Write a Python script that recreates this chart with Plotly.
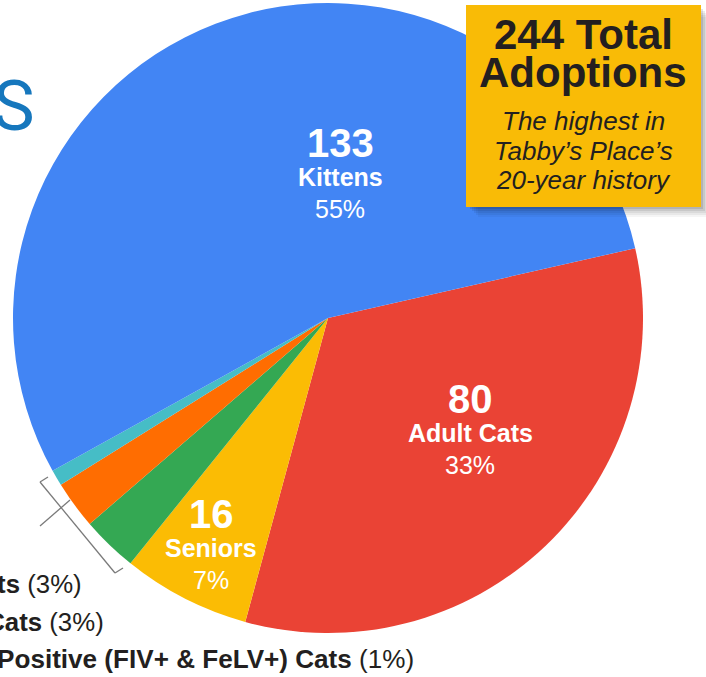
import plotly.graph_objects as go

# ---- data ----
categories = ["Adult Cats", "Seniors", "Special Needs Cats", "Bonded Cats",
              "Virus Positive (FIV+ & FeLV+) Cats", "Kittens"]
counts = [80, 16, 7, 6, 2, 133]
percents = ["33%", "7%", "3%", "3%", "1%", "55%"]
colors = ["#EA4335", "#FBBC04", "#34A853", "#FF6D01", "#46BDC6", "#4285F4"]
total_label = "244 Total"
total_label2 = "Adoptions"
subtitle_lines = ["The highest in", "Tabby\u2019s Place\u2019s", "20-year history"]

W, H = 706, 677
def px(x):
    return x / W
def py(y):
    return 1 - y / H

cx, cy, r = 328, 318, 315

fig = go.Figure()
fig.add_trace(go.Pie(
    labels=categories, values=counts, sort=False, direction="clockwise",
    rotation=77.2, marker=dict(colors=colors, line=dict(width=0)),
    textinfo="none", hoverinfo="skip", showlegend=False,
    domain=dict(x=[px(cx - r), px(cx + r)], y=[py(cy + r), py(cy - r)]),
))

ann = []
def text(x, y, t, size, color="white", bold=False, italic=False, xanchor="center", family="Liberation Sans, Arial, sans-serif"):
    if bold:
        t = "<b>" + t + "</b>"
    if italic:
        t = "<i>" + t + "</i>"
    ann.append(dict(x=px(x), y=py(y), xref="paper", yref="paper", text=t, showarrow=False,
                    xanchor=xanchor, yanchor="middle",
                    font=dict(size=size, color=color, family=family)))

# inside pie labels
label_pos = {"Kittens": (340, 143), "Adult Cats": (470, 399), "Seniors": (211, 514)}
for name, (lx, ly) in label_pos.items():
    i = categories.index(name)
    text(lx, ly, str(counts[i]), 40, bold=True)
    text(lx, ly + 34, name, 25, bold=True)
    text(lx, ly + 66, percents[i], 25)

# outside small-slice labels (cut off at left)
small = [(2, 84, 584, 25.8), (3, 106, 622, 25.8), (4, 416, 659, 26.1)]
for i, rx, ly, fs in small:
    ann.append(dict(x=px(rx), y=py(ly), xref="paper", yref="paper",
                    text="<b>" + categories[i] + "</b> (" + percents[i] + ")",
                    showarrow=False, xanchor="right", yanchor="middle",
                    font=dict(size=fs, color="#231F20", family="Liberation Sans, Arial, sans-serif")))

# cut-off title letter
ann.append(dict(x=px(37), y=py(106), xref="paper", yref="paper", text="S",
                showarrow=False, xanchor="right", yanchor="middle",
                font=dict(size=70, color="#1677BD",
                          family="Liberation Sans Narrow, Roboto, sans-serif")))

# yellow box text
bx = 583
text(bx, 35, total_label, 42, color="#231F20", bold=True)
text(bx, 72, total_label2, 42, color="#231F20", bold=True)
for k, line in enumerate(subtitle_lines):
    text(bx, 121 + k * 29.5, line, 26, color="#231F20", italic=True)

shapes = []
# shadow
for k, op in enumerate([0.10, 0.08, 0.06, 0.05, 0.04]):
    d = 2 + k * 2
    shapes.append(dict(type="rect", xref="paper", yref="paper",
                       x0=px(466 + d + 2), x1=px(701 + d), y0=py(207 + d), y1=py(5 + d + 2),
                       fillcolor="black", opacity=op, line=dict(width=0), layer="above"))
shapes.append(dict(type="rect", xref="paper", yref="paper",
                   x0=px(466), x1=px(701), y0=py(207), y1=py(5),
                   fillcolor="#F9BB06", line=dict(width=0), layer="above"))

# bracket
seg = [((40, 482), (115, 573)), ((40, 482), (48, 477)), ((115, 573), (123, 568)), ((40, 526), (70, 500))]
for (x0, y0), (x1, y1) in seg:
    shapes.append(dict(type="line", xref="paper", yref="paper",
                       x0=px(x0), y0=py(y0), x1=px(x1), y1=py(y1),
                       line=dict(color="#7a7a7a", width=1.3)))

fig.update_layout(width=W, height=H, margin=dict(l=0, r=0, t=0, b=0),
                  paper_bgcolor="white", plot_bgcolor="white",
                  annotations=ann, shapes=shapes)

fig.write_html("out.html", config={"displayModeBar": False},
               post_script="document.body.style.margin='0';document.body.style.overflow='hidden';")
